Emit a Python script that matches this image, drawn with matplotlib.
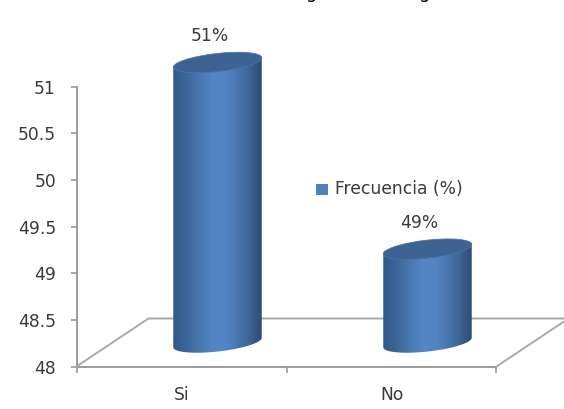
import numpy as np
import matplotlib.pyplot as plt
from matplotlib.colors import LinearSegmentedColormap
from matplotlib.patches import Ellipse, PathPatch, Rectangle
from matplotlib.path import Path

plt.rcParams['font.family'] = ['DejaVu Sans']

categories = ['Si', 'No']
values = [51, 49]
value_labels = ['51%', '49%']
y_ticks = [48, 48.5, 49, 49.5, 50, 50.5, 51]
y_tick_labels = ['48', '48.5', '49', '49.5', '50', '50.5', '51']
series_name = 'Frecuencia (%)'

W, H = 564, 409
TXT = '#3a3a3a'
AXC = '#9a9a9a'
FS = 12.3
# depth of the fake 3d floor, in pixels
DX, DY = 72, 48
RX, RY, TILT = 44.5, 9.0, 6.4

body_cmap = LinearSegmentedColormap.from_list('body', [
    (0.0, '#2f5885'), (0.15, '#3c6698'), (0.45, '#5486c6'), (0.6, '#5284c2'),
    (0.85, '#3e6698'), (1.0, '#2b4a70')])

fig = plt.figure(figsize=(W / 100, H / 100), dpi=100)
ax = fig.add_axes([76.5 / W, 1 - 366.5 / H, 420 / W, 280 / H])
ax.set_xlim(-0.5, 1.5)
ax.set_ylim(48, 51)
ax.patch.set_visible(False)
for s in ['top', 'right']:
    ax.spines[s].set_visible(False)
for s in ['left', 'bottom']:
    ax.spines[s].set_color(AXC)
    ax.spines[s].set_linewidth(1.4)
ax.set_yticks(y_ticks)
ax.set_yticklabels(y_tick_labels)
ax.set_xticks([-0.5, 0.5, 1.5])
ax.set_xticklabels([])
ax.tick_params(axis='y', length=4.3, width=1.2, color=AXC, labelcolor=TXT, labelsize=FS, pad=10.5)
ax.tick_params(axis='x', length=4.3, width=1.2, color=AXC)
for i, c in enumerate(categories):
    ax.annotate(c, (i, 48), xytext=(0, -20.5), textcoords='offset points', ha='center', va='center',
                color=TXT, fontsize=FS, annotation_clip=False)


# everything fake-3d goes on a pixel overlay
ov = fig.add_axes([0, 0, 1, 1])
ov.set_xlim(0, W)
ov.set_ylim(H, 0)
ov.axis('off')


def to_px(x, y):
    px, py = ax.transData.transform((x, y))
    return px, H - py


x0, y0 = to_px(-0.5, 48)
x1, y1 = to_px(1.5, 48)
yb = y0 - DY
ov.plot([x0, x0 + DX, W], [y0, yb, yb], color='#a8a8a8', lw=1.4, zorder=1)
ov.plot([x1, x1 + DX], [y1, yb], color='#a8a8a8', lw=1.4, zorder=1)

t = np.radians(TILT)
theta = np.linspace(0, np.pi, 60)
for i, (v, lab) in enumerate(zip(values, value_labels)):
    cx, ybase = to_px(i, 48)
    _, ytop = to_px(i, v)
    cx += DX / 2
    ybase -= DY / 2
    ytop -= DY / 2
    # lower outline of the base ellipse, tilted up to the right
    ex = RX * np.cos(theta)
    ey = RY * np.sin(theta)
    bx = cx + ex * np.cos(t) + ey * np.sin(t)
    by = ybase - ex * np.sin(t) + ey * np.cos(t)
    lx, ly = cx - RX * np.cos(t), ytop + RX * np.sin(t)
    rx, ry = cx + RX * np.cos(t), ytop - RX * np.sin(t)
    verts = [(rx, ry)] + list(zip(bx, by)) + [(lx, ly), (rx, ry)]
    clip = PathPatch(Path(verts), transform=ov.transData, fc='none', ec='none')
    ov.add_patch(clip)
    im = ov.imshow(np.linspace(0, 1, 200).reshape(1, -1), cmap=body_cmap, aspect='auto',
                   extent=(cx - RX - 1, cx + RX + 1, ybase + RY + 6, ytop - RX), zorder=2)
    im.set_clip_path(clip)
    ov.add_patch(Ellipse((cx, ytop), 2 * RX, 2 * RY, angle=-TILT, fc='#3c6391', ec='#4a74a8',
                         lw=0.6, zorder=3))
    ov.text(cx - 8, ytop - 26.5, lab, ha='center', va='center', color=TXT, fontsize=FS)

ov.set_xlim(0, W)
ov.set_ylim(H, 0)

# legend
ov.add_patch(Rectangle((316, 183.5), 12, 11, fc='#4f81bd', ec='none', zorder=3))
ov.text(335, 189, series_name, ha='left', va='center', color=TXT, fontsize=FS)

# tails of the title letters, the rest is cut off by the top edge
for gx in [312, 425]:
    ov.text(gx, -2.3, 'g', ha='center', va='baseline', fontsize=13, color='black', clip_on=False)

fig.savefig('out.png', dpi=100)
plt.close()
